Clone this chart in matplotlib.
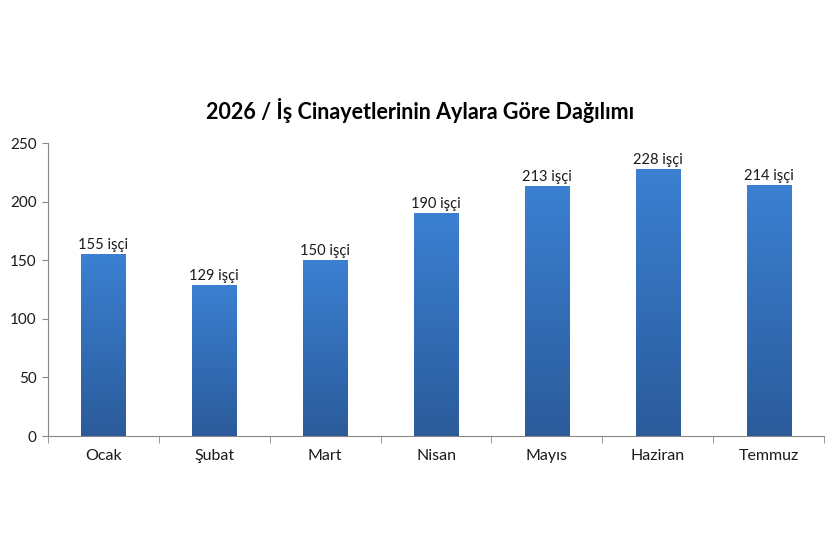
import matplotlib
matplotlib.use("Agg")
import matplotlib.pyplot as plt
import numpy as np
from matplotlib.colors import LinearSegmentedColormap

months = ["Ocak", "Şubat", "Mart", "Nisan", "Mayıs", "Haziran", "Temmuz"]
workers = [155, 129, 150, 190, 213, 228, 214]
label_suffix = " işçi"
title = "2026 / İş Cinayetlerinin Aylara Göre Dağılımı"

plt.rcParams['font.family'] = ['Lato', 'DejaVu Sans']

fig = plt.figure(figsize=(8.4, 5.59), dpi=100)
ax = fig.add_axes([0.0571, 0.22, 0.924, 0.524])

x = np.arange(len(months))
bar_w = 0.4
bars = ax.bar(x, workers, width=bar_w, color="none", edgecolor="none")

# vertical gradient inside each bar, lighter at the top
cmap = LinearSegmentedColormap.from_list("barblue", ["#2b5b9b", "#3b80d2"])
grad = np.linspace(0, 1, 256).reshape(-1, 1)
for b in bars:
    bx, by = b.get_x(), b.get_y()
    bw, bh = b.get_width(), b.get_height()
    im = ax.imshow(grad, extent=[bx, bx + bw, by, by + bh], origin="lower",
                   cmap=cmap, aspect="auto", zorder=2)
    im.set_clip_path(b)

for xi, v in zip(x, workers):
    ax.text(xi, v + 2, f"{v}{label_suffix}", ha="center", va="bottom",
            fontsize=10.5, color="#1a1a1a")

ax.set_xlim(-0.5, len(months) - 0.5)
ax.set_ylim(0, 250)
ax.set_yticks(range(0, 251, 50))
ax.set_xticks(x)
ax.set_xticklabels(months)
ax.set_xticks(np.arange(-0.5, len(months), 1), minor=True)
ax.tick_params(axis="x", which="major", length=0, pad=9, labelsize=11.5, colors="#1a1a1a")
ax.tick_params(axis="x", which="minor", length=5, color="#888888", direction="out")
ax.tick_params(axis="y", length=4, color="#888888", labelsize=11, colors="#1a1a1a", pad=4)
for t in ax.get_yticklabels():
    t.set_color("#1a1a1a")

for s in ["top", "right"]:
    ax.spines[s].set_visible(False)
for s in ["left", "bottom"]:
    ax.spines[s].set_color("#888888")
    ax.spines[s].set_linewidth(0.8)

fig.text(0.5, 0.803, title, ha="center", va="center", fontsize=15.5,
         fontweight="bold", color="#000000")

fig.savefig("out.png", dpi=100, facecolor="white")
